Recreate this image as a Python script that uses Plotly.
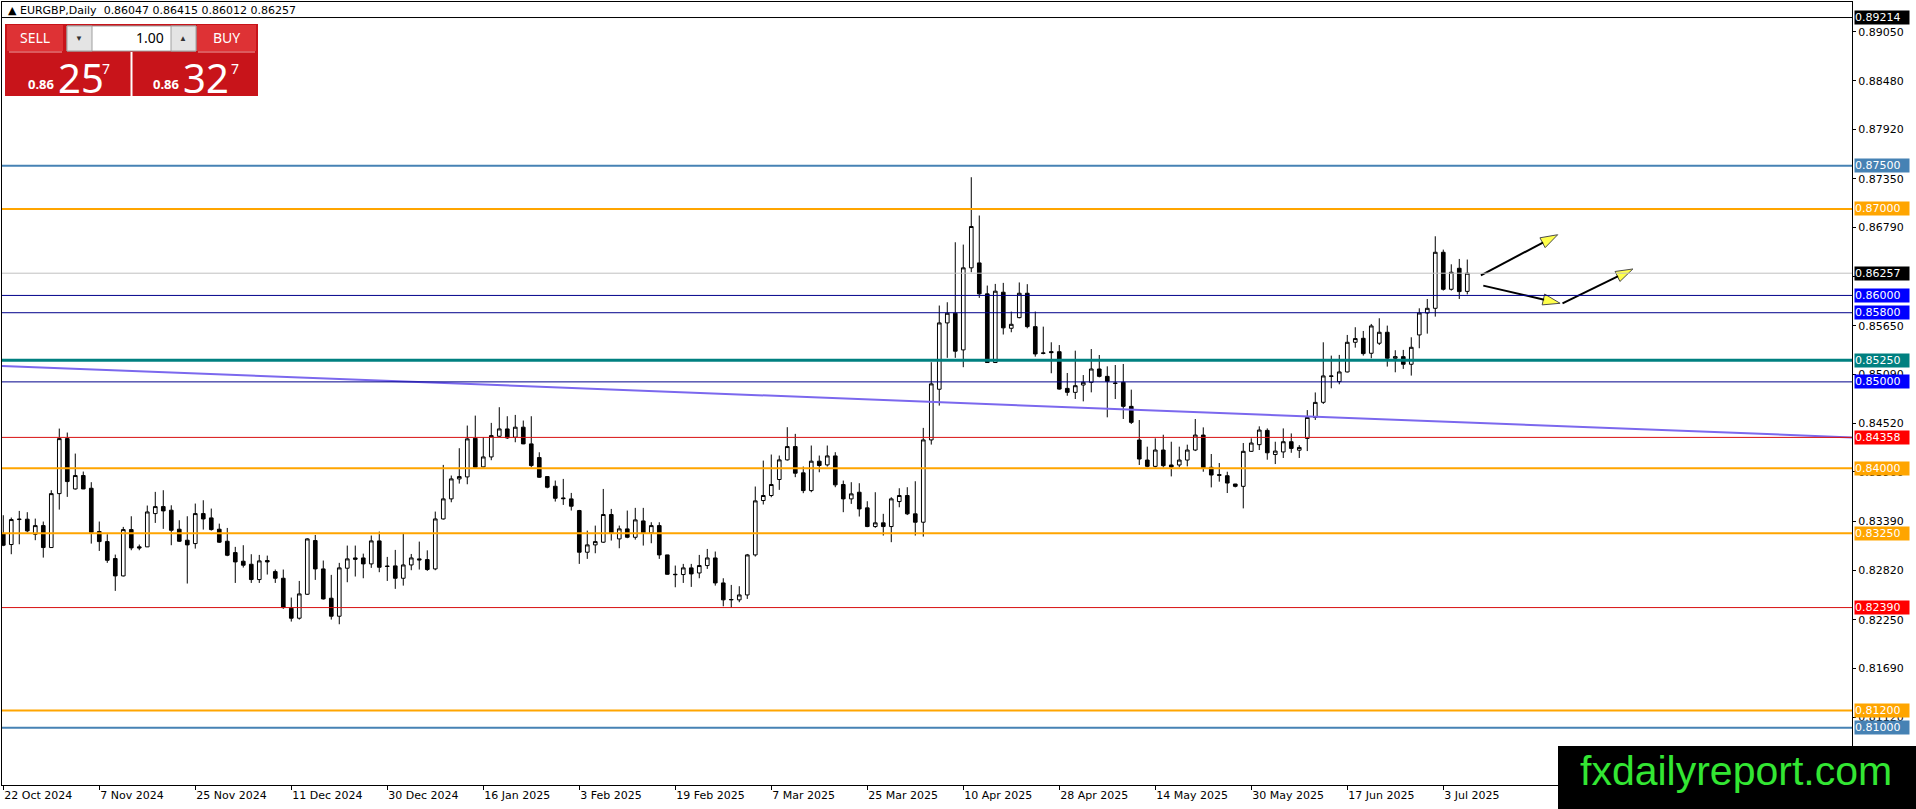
import plotly.graph_objects as go

# EURGBP daily candles, 22 Oct 2024 .. 8 Jul 2025
opens = [
    0.83246, 0.83119, 0.83408, 0.83412, 0.83238, 0.83338, 0.83084, 0.83708, 0.84344, 0.83762,
    0.83917, 0.83770, 0.83269, 0.83153, 0.82957, 0.82756, 0.83292, 0.83092, 0.83092, 0.83477,
    0.83558, 0.83516, 0.83296, 0.83169, 0.83130, 0.83477, 0.83427, 0.83296, 0.83157, 0.83026,
    0.82926, 0.82891, 0.82714, 0.82934, 0.82806, 0.82729, 0.82382, 0.82267, 0.82544, 0.83165,
    0.82837, 0.82498, 0.82290, 0.82845, 0.82964, 0.82964, 0.82895, 0.83161, 0.82870, 0.82872,
    0.82729, 0.82883, 0.82953, 0.82945, 0.82837, 0.83415, 0.83647, 0.83878, 0.83901, 0.84348,
    0.84017, 0.84132, 0.84371, 0.84456, 0.84360, 0.84476, 0.84283, 0.84125, 0.83905, 0.83793,
    0.83658, 0.83647, 0.83512, 0.83030, 0.83115, 0.83146, 0.83466, 0.83184, 0.83300, 0.83203,
    0.83392, 0.83254, 0.83338, 0.82999, 0.82775, 0.82772, 0.82849, 0.82790, 0.82876, 0.82964,
    0.82675, 0.82479, 0.82479, 0.82536, 0.82999, 0.83628, 0.83686, 0.83871, 0.84098, 0.84252,
    0.83948, 0.83743, 0.84083, 0.84040, 0.84144, 0.83813, 0.83647, 0.83724, 0.83543, 0.83327,
    0.83370, 0.83327, 0.83616, 0.83686, 0.83474, 0.83377, 0.84329, 0.84915, 0.85682, 0.85794,
    0.85370, 0.86319, 0.86376, 0.86018, 0.85224, 0.86037, 0.85620, 0.85743, 0.86025, 0.85639,
    0.85335, 0.85350, 0.85349, 0.84925, 0.84879, 0.84964, 0.84995, 0.85149, 0.85064, 0.84987,
    0.84995, 0.84717, 0.84328, 0.84096, 0.84023, 0.84212, 0.84039, 0.84039, 0.84096, 0.84212,
    0.84385, 0.84012, 0.83927, 0.83915, 0.83819, 0.83792, 0.84197, 0.84274, 0.84439, 0.84160,
    0.84190, 0.84308, 0.84210, 0.84346, 0.84589, 0.84764, 0.85069, 0.85003, 0.85115, 0.85458,
    0.85504, 0.85331, 0.85447, 0.85574, 0.85273, 0.85292, 0.85204, 0.85543, 0.85797, 0.85851,
    0.86499, 0.86071, 0.86314, 0.86047,
]
highs = [
    0.83458, 0.83431, 0.83508, 0.83493, 0.83419, 0.83385, 0.83747, 0.84460, 0.84414, 0.84171,
    0.83963, 0.83840, 0.83385, 0.83238, 0.83003, 0.83323, 0.83446, 0.83119, 0.83570, 0.83728,
    0.83747, 0.83573, 0.83400, 0.83446, 0.83593, 0.83631, 0.83535, 0.83361, 0.83311, 0.83092,
    0.83111, 0.83007, 0.82999, 0.82991, 0.82830, 0.82830, 0.82506, 0.82698, 0.83192, 0.83230,
    0.82934, 0.82768, 0.82907, 0.83107, 0.83107, 0.83014, 0.83223, 0.83269, 0.82976, 0.83057,
    0.83242, 0.83010, 0.83153, 0.83052, 0.83500, 0.84040, 0.83917, 0.84233, 0.84495, 0.84610,
    0.84360, 0.84526, 0.84707, 0.84603, 0.84618, 0.84553, 0.84603, 0.84186, 0.83910, 0.83859,
    0.83878, 0.83716, 0.83520, 0.83280, 0.83338, 0.83762, 0.83531, 0.83338, 0.83512, 0.83543,
    0.83543, 0.83377, 0.83377, 0.83000, 0.82876, 0.82895, 0.82895, 0.82999, 0.83068, 0.83038,
    0.82729, 0.82652, 0.82637, 0.83010, 0.83790, 0.84090, 0.84160, 0.84148, 0.84476, 0.84399,
    0.84021, 0.84264, 0.84148, 0.84264, 0.84187, 0.83859, 0.83840, 0.83828, 0.83620, 0.83724,
    0.83474, 0.83666, 0.83770, 0.83782, 0.83851, 0.84468, 0.85228, 0.85883, 0.85921, 0.86615,
    0.86588, 0.87367, 0.86924, 0.86114, 0.86133, 0.86145, 0.85813, 0.86150, 0.86130, 0.85813,
    0.85639, 0.85458, 0.85426, 0.85103, 0.85361, 0.85079, 0.85380, 0.85311, 0.85180, 0.85195,
    0.85207, 0.84910, 0.84559, 0.84251, 0.84347, 0.84389, 0.84308, 0.84251, 0.84274, 0.84571,
    0.84474, 0.84166, 0.84062, 0.83961, 0.83820, 0.84293, 0.84347, 0.84486, 0.84462, 0.84308,
    0.84462, 0.84404, 0.84269, 0.84674, 0.84878, 0.85458, 0.85304, 0.85312, 0.85543, 0.85632,
    0.85589, 0.85670, 0.85736, 0.85651, 0.85366, 0.85370, 0.85516, 0.85851, 0.85959, 0.86684,
    0.86530, 0.86360, 0.86422, 0.86415,
]
lows = [
    0.83100, 0.83007, 0.83122, 0.83261, 0.83169, 0.82968, 0.83080, 0.83523, 0.83670, 0.83755,
    0.83760, 0.83130, 0.83045, 0.82907, 0.82583, 0.82750, 0.83053, 0.83053, 0.83090, 0.83369,
    0.83300, 0.83111, 0.83150, 0.82668, 0.83072, 0.83292, 0.83280, 0.83138, 0.82984, 0.82675,
    0.82853, 0.82675, 0.82675, 0.82772, 0.82675, 0.82375, 0.82228, 0.82251, 0.82536, 0.82710,
    0.82483, 0.82251, 0.82197, 0.82683, 0.82749, 0.82729, 0.82849, 0.82799, 0.82698, 0.82606,
    0.82644, 0.82822, 0.82830, 0.82814, 0.82822, 0.83408, 0.83608, 0.83824, 0.83816, 0.84010,
    0.84010, 0.84094, 0.84365, 0.84340, 0.84302, 0.84280, 0.84013, 0.83890, 0.83770, 0.83616,
    0.83577, 0.83512, 0.82895, 0.82953, 0.83018, 0.83138, 0.83165, 0.83076, 0.83192, 0.83176,
    0.83107, 0.83134, 0.82953, 0.82770, 0.82625, 0.82675, 0.82629, 0.82729, 0.82837, 0.82644,
    0.82405, 0.82386, 0.82452, 0.82490, 0.82980, 0.83582, 0.83666, 0.83751, 0.84090, 0.83898,
    0.83713, 0.83724, 0.83955, 0.84021, 0.83782, 0.83493, 0.83589, 0.83443, 0.83320, 0.83312,
    0.83223, 0.83146, 0.83550, 0.83460, 0.83223, 0.83211, 0.84275, 0.84726, 0.85278, 0.85278,
    0.85170, 0.86268, 0.85972, 0.85220, 0.85220, 0.85548, 0.85574, 0.85735, 0.85620, 0.85292,
    0.85319, 0.85100, 0.84910, 0.84840, 0.84802, 0.84775, 0.84879, 0.85052, 0.84590, 0.84802,
    0.84571, 0.84513, 0.84039, 0.84012, 0.84010, 0.84010, 0.83907, 0.84012, 0.84023, 0.84200,
    0.83961, 0.83780, 0.83846, 0.83715, 0.83780, 0.83537, 0.84190, 0.84212, 0.84100, 0.84050,
    0.84120, 0.84180, 0.84120, 0.84200, 0.84560, 0.84745, 0.84926, 0.84972, 0.85110, 0.85396,
    0.85304, 0.85273, 0.85427, 0.85177, 0.85111, 0.85150, 0.85073, 0.85389, 0.85558, 0.85755,
    0.86056, 0.86056, 0.85959, 0.86012,
]
closes = [
    0.83111, 0.83408, 0.83412, 0.83277, 0.83338, 0.83084, 0.83708, 0.84344, 0.83847, 0.83917,
    0.83762, 0.83261, 0.83153, 0.82937, 0.82756, 0.83292, 0.83080, 0.83080, 0.83496, 0.83558,
    0.83508, 0.83284, 0.83157, 0.83115, 0.83477, 0.83415, 0.83292, 0.83146, 0.82995, 0.82918,
    0.82880, 0.82714, 0.82930, 0.82918, 0.82729, 0.82390, 0.82267, 0.82548, 0.83184, 0.82837,
    0.82490, 0.82290, 0.82849, 0.82953, 0.82949, 0.82895, 0.83161, 0.82856, 0.82866, 0.82729,
    0.82883, 0.82964, 0.82942, 0.82830, 0.83415, 0.83647, 0.83878, 0.83905, 0.84341, 0.84013,
    0.84132, 0.84379, 0.84456, 0.84352, 0.84476, 0.84283, 0.84032, 0.83897, 0.83782, 0.83654,
    0.83650, 0.83562, 0.83030, 0.83115, 0.83153, 0.83466, 0.83254, 0.83300, 0.83203, 0.83404,
    0.83254, 0.83338, 0.82999, 0.82775, 0.82771, 0.82849, 0.82779, 0.82876, 0.82964, 0.82675,
    0.82479, 0.82483, 0.82536, 0.82999, 0.83624, 0.83686, 0.83813, 0.84098, 0.84252, 0.83944,
    0.83743, 0.84083, 0.84033, 0.84144, 0.83809, 0.83647, 0.83705, 0.83531, 0.83327, 0.83370,
    0.83327, 0.83647, 0.83686, 0.83474, 0.83377, 0.84329, 0.84977, 0.85682, 0.85794, 0.85355,
    0.86319, 0.86797, 0.86018, 0.85224, 0.86049, 0.85625, 0.85666, 0.86025, 0.85639, 0.85323,
    0.85331, 0.85339, 0.84917, 0.84879, 0.84956, 0.84995, 0.85149, 0.85064, 0.85006, 0.84983,
    0.84717, 0.84532, 0.84108, 0.84023, 0.84212, 0.84031, 0.84015, 0.84096, 0.84212, 0.84385,
    0.84000, 0.83923, 0.83920, 0.83830, 0.83792, 0.84197, 0.84293, 0.84443, 0.84180, 0.84200,
    0.84308, 0.84231, 0.84242, 0.84589, 0.84763, 0.85069, 0.85065, 0.85115, 0.85458, 0.85501,
    0.85327, 0.85647, 0.85574, 0.85273, 0.85292, 0.85204, 0.85400, 0.85797, 0.85851, 0.86499,
    0.86071, 0.86268, 0.86044, 0.86257,
]

tick_labels = ["22 Oct 2024", "7 Nov 2024", "25 Nov 2024", "11 Dec 2024", "30 Dec 2024",
               "16 Jan 2025", "3 Feb 2025", "19 Feb 2025", "7 Mar 2025", "25 Mar 2025",
               "10 Apr 2025", "28 Apr 2025", "14 May 2025", "30 May 2025", "17 Jun 2025",
               "3 Jul 2025"]

price_ticks = [0.8905, 0.8848, 0.8792, 0.8735, 0.8679, 0.8622, 0.8565, 0.8509,
               0.8452, 0.8396, 0.8339, 0.8282, 0.8225, 0.8169, 0.8112, 0.8056]

# horizontal levels drawn on the chart
level_prices = [0.89214, 0.87500, 0.87000, 0.86257, 0.86000, 0.85800, 0.85250,
                0.85000, 0.84358, 0.84000, 0.83250, 0.82390, 0.81200, 0.81000]
level_colors = ["#000000", "#4682B4", "#FFA500", "#C0C0C0", "#00008B", "#00008B", "#008080",
                "#00008B", "#D81010", "#FFA500", "#FFA500", "#D81010", "#FFA500", "#4682B4"]
level_widths = [1, 2, 2, 1, 1, 1, 3, 1, 1, 2, 2, 1, 2, 2]
label_colors = ["#000000", "#4682B4", "#FFA500", "#000000", "#0000FF", "#0000FF", "#008080",
                "#0000FF", "#FF0000", "#FFA500", "#FFA500", "#FF0000", "#FFA500", "#4682B4"]

# trend line (price at left and right edge of the chart)
trend_y = [0.85184, 0.84358]

# projection arrows: bar position / price
arrow_x = [[184.7, 194.3], [185.0, 194.6], [194.9, 203.7]]
arrow_y = [[0.86233, 0.86702], [0.86113, 0.85909], [0.85909, 0.86306]]

W, H = 1916, 809
L, R, T, B = 2, 64, 2, 24
PW, PH = W - L - R, H - T - B
x_lo, x_hi = -0.16, 231.09
y_lo, y_hi = 0.80338, 0.893935
FONT = "DejaVu Sans"


def px(x):
    return (x - L) / PW


def py(y):
    return 1 - (y - T) / PH


bars = list(range(len(opens)))

fig = go.Figure()
fig.add_trace(go.Candlestick(
    x=bars, open=opens, high=highs, low=lows, close=closes,
    increasing=dict(line=dict(color="black", width=1), fillcolor="white"),
    decreasing=dict(line=dict(color="black", width=1), fillcolor="black"),
    whiskerwidth=0, hoverinfo="skip", showlegend=False,
))

fig.add_trace(go.Scatter(
    x=[x_lo, x_hi], y=trend_y, mode="lines",
    line=dict(color="#7B68EE", width=2), hoverinfo="skip", showlegend=False,
))

for ax, ay in zip(arrow_x, arrow_y):
    fig.add_trace(go.Scatter(
        x=ax, y=ay, mode="lines+markers",
        line=dict(color="black", width=2),
        marker=dict(symbol=["circle", "arrow"], size=[0, 18], angleref="previous",
                    color="#FFFF00", line=dict(color="black", width=1)),
        hoverinfo="skip", showlegend=False, cliponaxis=False,
    ))

shapes = []
annotations = []
for p, c, w, lc in zip(level_prices, level_colors, level_widths, label_colors):
    shapes.append(dict(type="line", xref="paper", x0=0, x1=1, yref="y", y0=p, y1=p,
                       line=dict(color=c, width=w), layer="above"))
    annotations.append(dict(xref="paper", x=1, xanchor="left", xshift=2, yref="y", y=p,
                            yanchor="middle", text=f"{p:.5f}", showarrow=False,
                            bgcolor=lc, font=dict(family=FONT, size=11, color="white"),
                            width=54, height=13, align="left", borderpad=0))

# title line
annotations.append(dict(xref="paper", yref="paper", x=px(6), y=py(10), xanchor="left",
                        yanchor="middle", showarrow=False,
                        text="\u25b2 EURGBP,Daily  0.86047 0.86415 0.86012 0.86257",
                        font=dict(family=FONT, size=11, color="black")))

# one-click trading panel
red_dark = "#C8141A"
red_btn = "#DE3235"
shapes += [
    dict(type="rect", xref="paper", yref="paper", x0=px(5), x1=px(258), y0=py(96), y1=py(24),
         fillcolor=red_dark, line=dict(width=0), layer="above"),
    dict(type="rect", xref="paper", yref="paper", x0=px(7), x1=px(63), y0=py(51), y1=py(25),
         fillcolor=red_btn, line=dict(width=0), layer="above"),
    dict(type="rect", xref="paper", yref="paper", x0=px(197), x1=px(256), y0=py(51), y1=py(25),
         fillcolor=red_btn, line=dict(width=0), layer="above"),
    dict(type="rect", xref="paper", yref="paper", x0=px(67), x1=px(196), y0=py(51), y1=py(26),
         fillcolor="white", line=dict(color="#A0A0A0", width=1), layer="above"),
    dict(type="rect", xref="paper", yref="paper", x0=px(67), x1=px(92), y0=py(51), y1=py(26),
         fillcolor="#E4E4E4", line=dict(color="#A0A0A0", width=1), layer="above"),
    dict(type="rect", xref="paper", yref="paper", x0=px(171), x1=px(196), y0=py(51), y1=py(26),
         fillcolor="#E4E4E4", line=dict(color="#A0A0A0", width=1), layer="above"),
    dict(type="line", xref="paper", yref="paper", x0=px(9), x1=px(62), y0=py(52), y1=py(52),
         line=dict(color="#F0A0A0", width=1), layer="above"),
    dict(type="line", xref="paper", yref="paper", x0=px(198), x1=px(255), y0=py(52), y1=py(52),
         line=dict(color="#F0A0A0", width=1), layer="above"),
    dict(type="line", xref="paper", yref="paper", x0=px(131.5), x1=px(131.5), y0=py(96), y1=py(52),
         line=dict(color="white", width=2), layer="above"),
]
panel_text = [
    ("SELL", 35, 38, 14, "white", "center"),
    ("BUY", 226, 38, 14, "white", "center"),
    ("1.00", 166, 38, 14, "black", "right"),
    ("\u25bc", 79, 38, 8, "#333333", "center"),
    ("\u25b2", 183, 38, 8, "#333333", "center"),
    ("<b>0.86</b>", 41, 84, 13, "white", "center"),
    ("25", 81, 77, 40, "white", "center"),
    ("7", 106, 68, 14, "white", "center"),
    ("<b>0.86</b>", 166, 84, 13, "white", "center"),
    ("32", 206, 77, 40, "white", "center"),
    ("7", 235, 68, 14, "white", "center"),
]
for txt, x, y, size, col, anchor in panel_text:
    annotations.append(dict(xref="paper", yref="paper", x=px(x), y=py(y), xanchor=anchor,
                            yanchor="middle", text=txt, showarrow=False,
                            font=dict(family="Noto Sans", size=size, color=col)))

# watermark
shapes.append(dict(type="rect", xref="paper", yref="paper", x0=px(1558), x1=px(1920),
                   y0=py(812), y1=py(746), fillcolor="black", line=dict(width=0), layer="above"))
annotations.append(dict(xref="paper", yref="paper", x=px(1736), y=py(771), xanchor="center",
                        yanchor="middle", text="fxdailyreport.com", showarrow=False,
                        font=dict(family="Liberation Sans", size=41, color="#33E633")))

fig.update_layout(
    width=W, height=H,
    margin=dict(l=L, r=R, t=T, b=B, autoexpand=False),
    paper_bgcolor="white", plot_bgcolor="white",
    showlegend=False, boxgap=0.35,
    shapes=shapes, annotations=annotations,
    xaxis=dict(
        range=[x_lo, x_hi], rangeslider=dict(visible=False), automargin=False,
        tickvals=bars[::12], ticktext=tick_labels, ticklabelposition="outside right",
        ticks="outside", ticklen=4, tickcolor="black",
        showgrid=False, zeroline=False, showline=True, linecolor="black", linewidth=1,
        mirror=True, tickfont=dict(family=FONT, size=11, color="black"),
    ),
    yaxis=dict(
        range=[y_lo, y_hi], side="right", automargin=False,
        tickvals=price_ticks, ticktext=[f"{v:.5f}" for v in price_ticks],
        ticks="outside", ticklen=3, tickcolor="black",
        showgrid=False, zeroline=False, showline=True, linecolor="black", linewidth=1,
        mirror=True, tickfont=dict(family=FONT, size=11, color="black"),
    ),
)

# page margin off so the chart sits at the window's top-left corner; no modebar
fig.write_html("out.html", config={"displayModeBar": False},
               post_script="document.body.style.margin = '0px';")
